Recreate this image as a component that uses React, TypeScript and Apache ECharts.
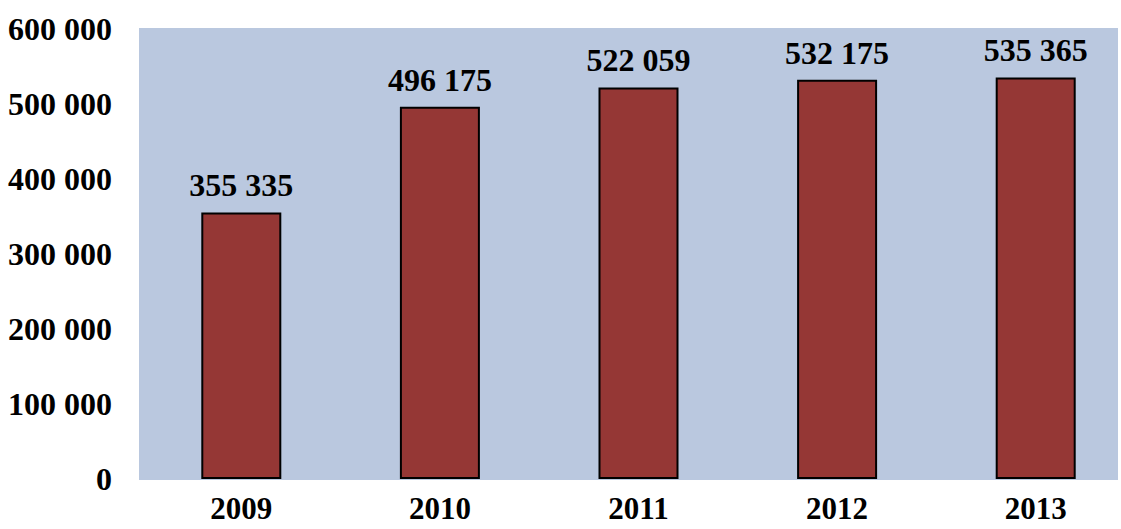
import React, { useEffect, useRef } from "react";
import * as echarts from "echarts";

const categories = ["2009", "2010", "2011", "2012", "2013"];
const values = [355335, 496175, 522059, 532175, 535365];
const yTicks = [0, 100000, 200000, 300000, 400000, 500000, 600000];

const fmt = (v: number) => String(v).replace(/\B(?=(\d{3})+(?!\d))/g, " ");

export default function App() {
  const ref = useRef<HTMLDivElement>(null);
  useEffect(() => {
    document.body.style.margin = "0";
    const chart = echarts.init(ref.current!, null, { renderer: "svg" });
    const font = "'Liberation Serif', 'Times New Roman', serif";
    chart.setOption({
      animation: false,
      backgroundColor: "#ffffff",
      graphic: [
        {
          type: "rect",
          z: -10,
          shape: { x: 139, y: 28, width: 979, height: 452 },
          style: { fill: "#bac8df" },
        },
      ],
      grid: { left: 142, top: 29, width: 993, height: 450 },
      xAxis: {
        type: "category",
        data: categories,
        axisLine: { show: false },
        axisTick: { show: false },
        axisLabel: {
          margin: 17,
          lineHeight: 24,
          fontFamily: font,
          fontWeight: "bold",
          fontSize: 31,
          color: "#000",
        },
      },
      yAxis: {
        type: "value",
        min: yTicks[0],
        max: yTicks[yTicks.length - 1],
        interval: 100000,
        splitLine: { show: false },
        axisLine: { show: false },
        axisTick: { show: false },
        axisLabel: {
          margin: 30,
          fontFamily: font,
          fontWeight: "bold",
          fontSize: 32,
          color: "#000",
          formatter: (v: number) => fmt(v),
        },
      },
      series: [
        {
          type: "bar",
          data: values,
          barWidth: 80,
          itemStyle: { color: "#953735", borderColor: "#000", borderWidth: 2 },
          label: {
            show: true,
            position: "top",
            distance: 11,
            fontFamily: font,
            fontWeight: "bold",
            fontSize: 32,
            color: "#000",
            formatter: (p: any) => fmt(p.value),
          },
        },
      ],
    });
    return () => chart.dispose();
  }, []);
  return (
    <div style={{ width: 1121, height: 529, overflow: "hidden" }}>
      <div ref={ref} style={{ width: 1150, height: 529 }} />
    </div>
  );
}
